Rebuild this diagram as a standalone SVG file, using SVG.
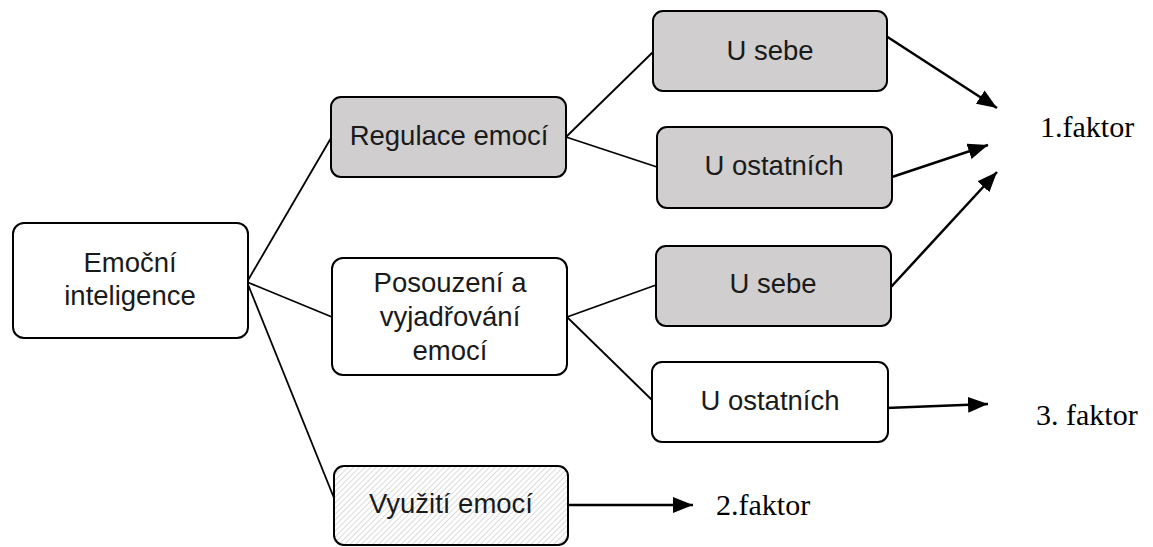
<svg xmlns="http://www.w3.org/2000/svg" width="1153" height="547" viewBox="0 0 1153 547">
<style>
.box{stroke:#000;stroke-width:2;}
.gray{fill:#d0cece;}
.white{fill:#fff;}
.t{font-family:"Liberation Sans",Arial,sans-serif;font-size:27.5px;fill:#1a1a1a;text-anchor:middle;}
.f{font-family:"Liberation Serif","Times New Roman",serif;font-size:30px;fill:#000;}
.ln{stroke:#000;stroke-width:1.8;fill:none;}
.ar{stroke:#000;stroke-width:2.5;fill:none;marker-end:url(#ah);}
</style>
<defs>
<marker id="ah" markerUnits="userSpaceOnUse" markerWidth="22" markerHeight="18" refX="20" refY="8" orient="auto">
<path d="M0,0 L20,8 L0,16 z" fill="#000"/>
</marker>
<pattern id="hatch" patternUnits="userSpaceOnUse" width="4" height="4" patternTransform="rotate(45)">
<rect width="4" height="4" fill="#fff"/>
<line x1="0" y1="0" x2="0" y2="4" stroke="#c8c8c8" stroke-width="1.3"/>
</pattern>
</defs>
<rect width="1153" height="547" fill="#fff"/>
<g id="connectors">
<line class="ln" x1="247" y1="282" x2="331" y2="138"/>
<line class="ln" x1="247" y1="282" x2="332" y2="317"/>
<line class="ln" x1="247" y1="282" x2="334" y2="498"/>
<line class="ln" x1="566" y1="137" x2="653" y2="52"/>
<line class="ln" x1="566" y1="137" x2="657" y2="167"/>
<line class="ln" x1="567" y1="317" x2="656" y2="285"/>
<line class="ln" x1="567" y1="317" x2="652" y2="400"/>
<line class="ar" x1="886" y1="36" x2="997" y2="108"/>
<line class="ar" x1="892" y1="177" x2="988" y2="145"/>
<line class="ar" x1="891" y1="287" x2="997" y2="172"/>
<line class="ar" x1="886" y1="408" x2="988" y2="404"/>
<line class="ar" x1="568" y1="505" x2="693" y2="505"/>
</g>
<g id="emocni-inteligence">
<rect class="box white" x="13" y="223" width="235" height="115" rx="11"/>
<text class="t" x="130" y="272">Emoční</text>
<text class="t" x="130" y="305">inteligence</text>
</g>
<g id="regulace-emoci">
<rect class="box gray" x="331" y="97" width="235" height="80" rx="10"/>
<text class="t" x="449" y="145">Regulace emocí</text>
</g>
<g id="posouzeni">
<rect class="box white" x="332" y="258" width="235" height="117" rx="11"/>
<text class="t" x="450" y="292">Posouzení a</text>
<text class="t" x="450" y="326">vyjadřování</text>
<text class="t" x="450" y="360">emocí</text>
</g>
<g id="vyuziti-emoci">
<rect class="box" fill="url(#hatch)" x="334" y="466" width="234" height="79" rx="10"/>
<text class="t" x="451" y="513">Využití emocí</text>
</g>
<g id="u-sebe-1">
<rect class="box gray" x="653" y="11" width="234" height="80" rx="10"/>
<text class="t" x="770" y="60">U sebe</text>
</g>
<g id="u-ostatnich-1">
<rect class="box gray" x="657" y="127" width="235" height="81" rx="10"/>
<text class="t" x="774" y="175">U ostatních</text>
</g>
<g id="u-sebe-2">
<rect class="box gray" x="656" y="246" width="235" height="80" rx="10"/>
<text class="t" x="773" y="293">U sebe</text>
</g>
<g id="u-ostatnich-2">
<rect class="box white" x="652" y="362" width="236" height="80" rx="10"/>
<text class="t" x="770" y="410">U ostatních</text>
</g>
<g id="labels">
<text class="f" x="1040" y="137">1.faktor</text>
<text class="f" x="1036" y="425">3. faktor</text>
<text class="f" x="716" y="515">2.faktor</text>
</g>
</svg>
